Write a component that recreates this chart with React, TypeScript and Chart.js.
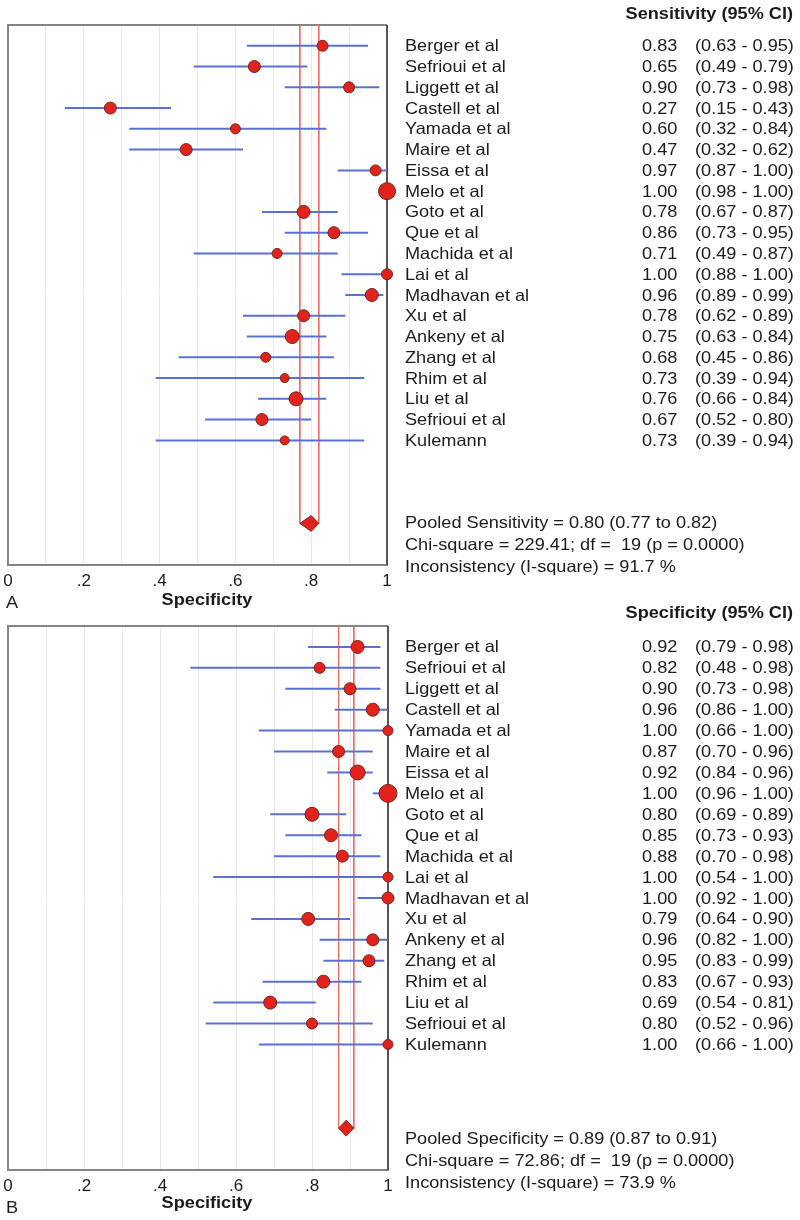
import React, { useEffect, useRef } from "react";
import { Chart, registerables } from "chart.js";

Chart.register(...registerables);

// ---------------- data ----------------
const studies = [
  "Berger et al", "Sefrioui et al", "Liggett et al", "Castell et al", "Yamada et al",
  "Maire et al", "Eissa et al", "Melo et al", "Goto et al", "Que et al",
  "Machida et al", "Lai et al", "Madhavan et al", "Xu et al", "Ankeny et al",
  "Zhang et al", "Rhim et al", "Liu et al", "Sefrioui et al", "Kulemann",
];

const sensEst = [0.83, 0.65, 0.90, 0.27, 0.60, 0.47, 0.97, 1.00, 0.78, 0.86, 0.71, 1.00, 0.96, 0.78, 0.75, 0.68, 0.73, 0.76, 0.67, 0.73];
const sensLo = [0.63, 0.49, 0.73, 0.15, 0.32, 0.32, 0.87, 0.98, 0.67, 0.73, 0.49, 0.88, 0.89, 0.62, 0.63, 0.45, 0.39, 0.66, 0.52, 0.39];
const sensHi = [0.95, 0.79, 0.98, 0.43, 0.84, 0.62, 1.00, 1.00, 0.87, 0.95, 0.87, 1.00, 0.99, 0.89, 0.84, 0.86, 0.94, 0.84, 0.80, 0.94];
const sensMarker = [5.5, 6, 5.5, 6, 5, 6, 5.5, 8.5, 6.5, 6, 5, 5.5, 6.5, 6, 7, 5, 4.5, 7, 6, 4.5];
const sensPooled = [0.80, 0.77, 0.82];
const sensHeader = "Sensitivity (95% CI)";
const sensStats = [
  "Pooled Sensitivity = 0.80 (0.77 to 0.82)",
  "Chi-square = 229.41; df =  19 (p = 0.0000)",
  "Inconsistency (I-square) = 91.7 %",
];

const specEst = [0.92, 0.82, 0.90, 0.96, 1.00, 0.87, 0.92, 1.00, 0.80, 0.85, 0.88, 1.00, 1.00, 0.79, 0.96, 0.95, 0.83, 0.69, 0.80, 1.00];
const specLo = [0.79, 0.48, 0.73, 0.86, 0.66, 0.70, 0.84, 0.96, 0.69, 0.73, 0.70, 0.54, 0.92, 0.64, 0.82, 0.83, 0.67, 0.54, 0.52, 0.66];
const specHi = [0.98, 0.98, 0.98, 1.00, 1.00, 0.96, 0.96, 1.00, 0.89, 0.93, 0.98, 1.00, 1.00, 0.90, 1.00, 0.99, 0.93, 0.81, 0.96, 1.00];
const specMarker = [6.5, 5.5, 6, 6.5, 5, 6, 7.5, 9, 7, 6.5, 6, 5, 6, 6.5, 6, 6, 6.5, 6.5, 5.5, 5];
const specPooled = [0.89, 0.87, 0.91];
const specHeader = "Specificity (95% CI)";
const specStats = [
  "Pooled Specificity = 0.89 (0.87 to 0.91)",
  "Chi-square = 72.86; df =  19 (p = 0.0000)",
  "Inconsistency (I-square) = 73.9 %",
];

const xTickLabels = ["0", "", ".2", "", ".4", "", ".6", "", ".8", "", "1"];
const xAxisTitle = "Specificity";

// ---------------- styling ----------------
const FONT = '"Liberation Sans", Arial, Helvetica, sans-serif';
const TEXT = "#1b1b1b";
const SX = 1.1;
const FS = 16.5;

function drawText(ctx: CanvasRenderingContext2D, text: string, x: number, y: number, align: CanvasTextAlign, bold = false) {
  ctx.save();
  ctx.translate(x, y);
  ctx.scale(SX, 1);
  ctx.font = `${bold ? "bold " : ""}${FS}px ${FONT}`;
  ctx.fillStyle = TEXT;
  ctx.textAlign = align;
  ctx.textBaseline = "middle";
  ctx.fillText(text, 0, 0);
  ctx.restore();
}

type PanelProps = {
  top: number;
  height: number;
  padTop: number;
  padRight: number;
  axisHeight: number;
  est: number[];
  lo: number[];
  hi: number[];
  marker: number[];
  pooled: number[];
  header: string;
  stats: string[];
  letter: string;
  headerOff: number;
  statsOff: number;
  titleOff: number;
  letterOff: number;
};

const ROWS_MAX = 26;
const DIAMOND_ROW = 24;

function Panel(p: PanelProps) {
  const ref = useRef<HTMLCanvasElement>(null);
  useEffect(() => {
    const canvas = ref.current!;
    const ciSets = p.est.map((_, i) => ({
      type: "line" as const,
      data: [{ x: p.lo[i], y: i + 1 }, { x: p.hi[i], y: i + 1 }],
      borderColor: "#5a70d4",
      borderWidth: 2,
      pointRadius: 0,
      fill: false,
      clip: false as any,
      order: 3,
    }));
    const pooledLines = [p.pooled[1], p.pooled[2]].map((v) => ({
      type: "line" as const,
      data: [{ x: v, y: 0 }, { x: v, y: DIAMOND_ROW }],
      borderColor: "#f06a58",
      borderWidth: 1,
      pointRadius: 0,
      fill: false,
      order: 4,
    }));
    const h = 0.38;
    const diamond = {
      type: "line" as const,
      data: [
        { x: p.pooled[1], y: DIAMOND_ROW },
        { x: p.pooled[0], y: DIAMOND_ROW - h },
        { x: p.pooled[2], y: DIAMOND_ROW },
        { x: p.pooled[0], y: DIAMOND_ROW + h },
        { x: p.pooled[1], y: DIAMOND_ROW },
      ],
      borderColor: "#7a2420",
      borderWidth: 1,
      backgroundColor: "#e3221c",
      fill: "shape" as any,
      pointRadius: 0,
      tension: 0,
      order: 1,
    };
    const points = {
      type: "line" as const,
      data: p.est.map((v, i) => ({ x: v, y: i + 1 })),
      showLine: false,
      pointRadius: p.marker,
      pointBackgroundColor: "#e3221c",
      pointBorderColor: "#6a2820",
      pointBorderWidth: 1,
      clip: false as any,
      order: 0,
    };

    const boxPlugin = {
      id: "box",
      beforeDatasetsDraw(chart: any) {
        const { ctx, chartArea: a } = chart;
        ctx.save();
        ctx.strokeStyle = "#858585";
        ctx.lineWidth = 2;
        ctx.beginPath();
        ctx.moveTo(a.left, a.bottom);
        ctx.lineTo(a.left, a.top);
        ctx.lineTo(a.right, a.top);
        ctx.stroke();
        ctx.strokeStyle = "#555555";
        ctx.beginPath();
        ctx.moveTo(a.right, a.top);
        ctx.lineTo(a.right, a.bottom);
        ctx.stroke();
        ctx.restore();
      },
    };

    const textPlugin = {
      id: "forestText",
      afterDraw(chart: any) {
        const { ctx, chartArea: a } = chart;
        const y = chart.scales.y;
        const row1 = y.getPixelForValue(1);
        drawText(ctx, p.header, 793, row1 + p.headerOff, "right", true);
        studies.forEach((s, i) => {
          const py = y.getPixelForValue(i + 1) + 1;
          drawText(ctx, s, 405, py, "left");
          drawText(ctx, p.est[i].toFixed(2), 642, py, "left");
          drawText(ctx, `(${p.lo[i].toFixed(2)} - ${p.hi[i].toFixed(2)})`, 695, py, "left");
        });
        const dy = y.getPixelForValue(DIAMOND_ROW) + p.statsOff;
        p.stats.forEach((s, i) => drawText(ctx, s, 405, dy + i * 22, "left"));
        drawText(ctx, xAxisTitle, 207, a.bottom + p.titleOff, "center", true);
        drawText(ctx, p.letter, 6, a.bottom + p.letterOff, "left");
      },
    };

    const chart = new Chart(canvas, {
      type: "line",
      data: { datasets: [points, diamond, ...ciSets, ...pooledLines] as any },
      options: {
        responsive: false,
        animation: false,
        events: [],
        layout: { padding: { top: p.padTop, left: 8, right: p.padRight, bottom: 0 } },
        plugins: { legend: { display: false }, tooltip: { enabled: false } },
        scales: {
          x: {
            type: "linear",
            min: 0,
            max: 1,
            grid: { color: "#ebe7ef", lineWidth: 1, drawTicks: false },
            border: { display: true, color: "#858585", width: 2 },
            ticks: {
              stepSize: 0.1,
              padding: 6,
              maxRotation: 0,
              autoSkip: false,
              color: TEXT,
              font: { family: FONT, size: 17 },
              callback: (v: any) => xTickLabels[Math.round(Number(v) * 10)] ?? "",
            },
            afterFit: (s: any) => {
              s.height = p.axisHeight;
              s.paddingLeft = 0;
              s.paddingRight = 0;
            },
          },
          y: {
            type: "linear",
            display: false,
            reverse: true,
            min: 0,
            max: ROWS_MAX,
          },
        },
      } as any,
      plugins: [boxPlugin, textPlugin],
    });
    return () => chart.destroy();
  }, []);
  return (
    <canvas
      ref={ref}
      width={800}
      height={p.height}
      style={{ position: "absolute", left: 0, top: p.top, display: "block" }}
    />
  );
}

export default function App() {
  return (
    <div style={{ position: "absolute", left: 0, top: 0, width: 800, height: 1220, background: "#ffffff", overflow: "hidden" }}>
      <Panel
        top={0}
        height={612}
        padTop={25}
        padRight={413}
        axisHeight={47}
        est={sensEst}
        lo={sensLo}
        hi={sensHi}
        marker={sensMarker}
        pooled={sensPooled}
        header={sensHeader}
        stats={sensStats}
        letter="A"
        headerOff={-31}
        statsOff={0}
        titleOff={35}
        letterOff={38}
      />
      <Panel
        top={600}
        height={620}
        padTop={26}
        padRight={412}
        axisHeight={50}
        est={specEst}
        lo={specLo}
        hi={specHi}
        marker={specMarker}
        pooled={specPooled}
        header={specHeader}
        stats={specStats}
        letter="B"
        headerOff={-33}
        statsOff={11}
        titleOff={33}
        letterOff={38}
      />
    </div>
  );
}
